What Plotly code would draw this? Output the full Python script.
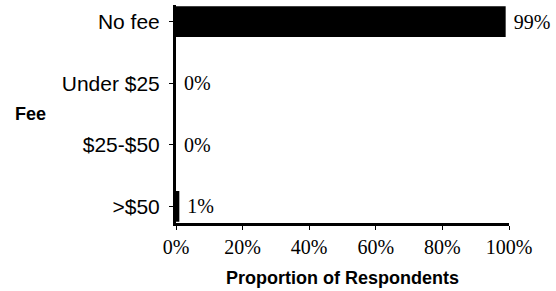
import plotly.graph_objects as go

categories = ["No fee", "Under $25", "$25-$50", ">$50"]
values = [99, 0, 0, 1]
labels = ["99%", "0%", "0%", "1%"]
x_ticks = [0, 20, 40, 60, 80, 100]
x_tick_labels = ["0%", "20%", "40%", "60%", "80%", "100%"]

fig = go.Figure(go.Bar(
    y=categories, x=values, orientation="h",
    marker=dict(color="black", line=dict(width=0)),
    width=0.5,
    text=labels, texttemplate=" %{text}",
    textposition="outside", cliponaxis=False,
    textfont=dict(family="Liberation Serif", size=20, color="black"),
    hoverinfo="skip",
))

fig.update_layout(
    width=556, height=291,
    margin=dict(l=176, r=47, t=5, b=68),
    plot_bgcolor="white", paper_bgcolor="white",
    showlegend=False,
    xaxis=dict(
        automargin=False,
        range=[0, 100], tickvals=x_ticks, ticktext=x_tick_labels,
        showgrid=False, zeroline=False,
        showline=True, linecolor="black", linewidth=3,
        ticks="outside", ticklen=4, tickcolor="black",
        tickfont=dict(family="Liberation Serif", size=20, color="black"),
        title=dict(text="<b>Proportion of Respondents</b>",
                   font=dict(family="Liberation Sans", size=18, color="black"),
                   standoff=15),
    ),
    yaxis=dict(
        automargin=False,
        categoryorder="array", categoryarray=categories,
        range=[3.27, -0.27],
        showgrid=False, zeroline=False,
        showline=True, linecolor="black", linewidth=3,
        ticks="outside", ticklen=4, tickcolor="black",
        ticklabelstandoff=5,
        tickfont=dict(family="Liberation Sans", size=21, color="black"),
    ),
    annotations=[dict(
        text="<b>Fee</b>", xref="paper", yref="paper",
        x=-163/333, y=0.5, xanchor="left", yanchor="middle",
        showarrow=False,
        font=dict(family="Liberation Sans", size=18, color="black"),
    )],
)

fig.write_html("out.html", config={"displayModeBar": False},
               post_script="document.body.style.margin='0';")
